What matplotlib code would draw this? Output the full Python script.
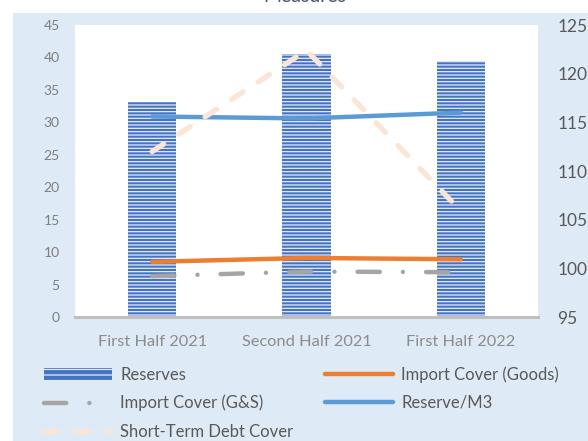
import matplotlib
matplotlib.use("Agg")
import matplotlib.pyplot as plt
from matplotlib.patches import Rectangle, Patch
from matplotlib.lines import Line2D

categories = ["First Half 2021", "Second Half 2021", "First Half 2022"]
reserves = [33.2, 40.5, 39.4]
import_cover_goods = [8.5, 9.1, 8.9]
import_cover_gs = [6.3, 7.0, 6.9]
reserve_m3 = [30.9, 30.6, 31.5]
short_term_debt_cover = [112.0, 122.4, 105.9]

left_ticks = [0, 5, 10, 15, 20, 25, 30, 35, 40, 45]
right_ticks = [95, 100, 105, 110, 115, 120, 125]

plt.rcParams['font.family'] = ['Lato', 'DejaVu Sans']
plt.rcParams['hatch.linewidth'] = 0.9

W, H = 588, 441
fig = plt.figure(figsize=(W / 100, H / 100), dpi=100)
fig.patch.set_facecolor('white')

# light blue chart background
fig.patches.append(Rectangle((13 / W, 0), 1, 1 - 13 / H, transform=fig.transFigure,
                             facecolor='#DEEAF6', edgecolor='none', zorder=-10))

# partially visible title
fig.text(305 / W, 1 - 2.5 / H, "Measures", ha='center', va='baseline',
         fontsize=14, color='#44546A')

ax = fig.add_axes([75 / W, 1 - 317 / H, (538 - 75) / W, (317 - 25) / H])
ax.set_facecolor('white')
x = list(range(len(categories)))

bar_blue = '#4472C4'
gs_style = (0, (5.0, 5.2, 0.01, 5.2))
stdc_style = (0, (2.6, 3.4))

ax.bar(x, reserves, width=0.315, facecolor=bar_blue, edgecolor='#E6EDF8',
       linewidth=0, hatch='-----', zorder=2)

ax.plot(x, import_cover_goods, color='#ED7D31', lw=3.2, solid_capstyle='round', zorder=4)
ax.plot(x, import_cover_gs, color='#A5A5A5', lw=3.2, linestyle=gs_style,
        dash_capstyle='round', zorder=4)
ax.plot(x, reserve_m3, color='#5B9BD5', lw=3.2, solid_capstyle='round', zorder=4)

ax.set_xlim(-0.5, 2.5)
ax.set_ylim(0, 45)
ax.set_yticks(left_ticks)
ax.set_xticks(x)
ax.set_xticklabels(categories)
for s in ['left', 'right', 'top']:
    ax.spines[s].set_visible(False)
ax.spines['bottom'].set_color('#BFBFBF')
ax.spines['bottom'].set_linewidth(2.2)
ax.spines['bottom'].set_zorder(5)
ax.tick_params(axis='y', length=0, pad=11, labelsize=10, labelcolor='#7F7F7F')
ax.tick_params(axis='x', length=0, pad=13, labelsize=11.8, labelcolor='#8C8C8C')

ax2 = ax.twinx()
ax2.patch.set_visible(False)
ax2.plot(x, short_term_debt_cover, color='#FBE5D6', lw=3.8,
         linestyle=stdc_style, dash_capstyle='round', zorder=5)
ax2.set_ylim(95, 125)
ax2.set_yticks(right_ticks)
for s in ['left', 'right', 'top', 'bottom']:
    ax2.spines[s].set_visible(False)
ax2.tick_params(axis='y', length=0, pad=14, labelsize=12.5, labelcolor='#595959')

handles = [
    Patch(facecolor=bar_blue, edgecolor='#E6EDF8', linewidth=0, hatch='---'),
    Line2D([], [], color='#A5A5A5', lw=3.2, linestyle=gs_style, dash_capstyle='round'),
    Line2D([], [], color='#FBE5D6', lw=3.8, linestyle=stdc_style, dash_capstyle='round'),
    Line2D([], [], color='#ED7D31', lw=3.2, solid_capstyle='round'),
    Line2D([], [], color='#5B9BD5', lw=3.2, solid_capstyle='round'),
]
labels = ["Reserves", "Import Cover (G&S)", "Short-Term Debt Cover",
          "Import Cover (Goods)", "Reserve/M3"]
leg = fig.legend(handles, labels, ncol=2, loc='upper left',
                 bbox_to_anchor=(44 / W, 1 - 366 / H), frameon=False,
                 fontsize=12, handlelength=4.1, handletextpad=0.48,
                 columnspacing=1.9, labelspacing=0.74, borderpad=0, borderaxespad=0)
for t in leg.get_texts():
    t.set_color('#595959')

fig.savefig('out.png', dpi=100)
